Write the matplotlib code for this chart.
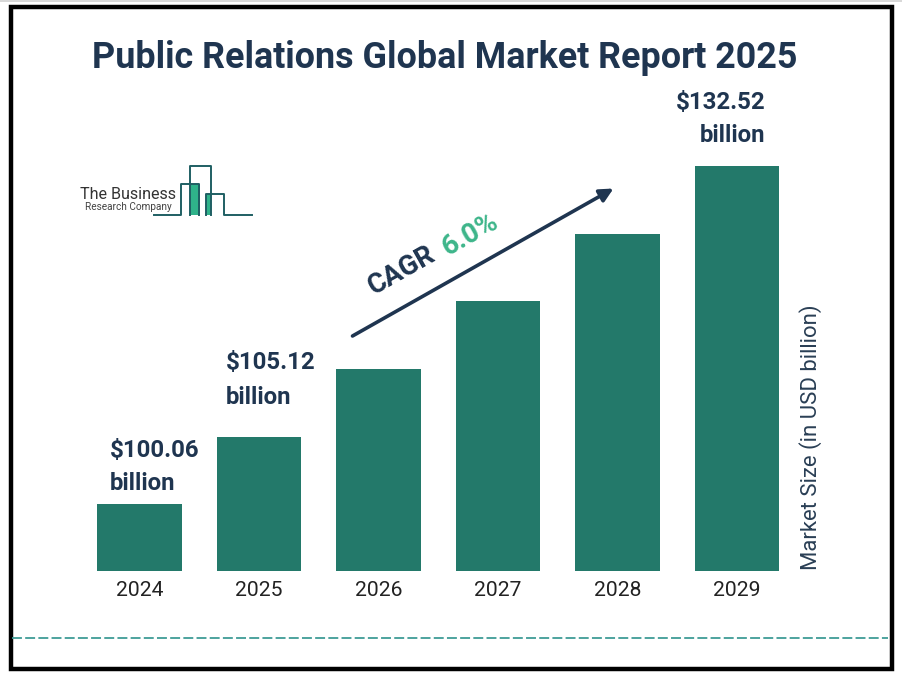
#!/bin/env python3

import matplotlib
matplotlib.use("Agg")
import matplotlib.pyplot as plt
from matplotlib.patches import Rectangle

plt.rcParams["font.family"] = ["Roboto", "DejaVu Sans"]

NAVY = "#1f3550"
BAR = "#23796a"
GREEN = "#3db58a"

years = ["2024", "2025", "2026", "2027", "2028", "2029"]
# heights as drawn in the picture, the bars are not to scale with the dollar labels
bar_heights = [67, 134, 202, 270, 337, 405]

W, H = 902, 680

fig = plt.figure(figsize=(W / 100, H / 100), dpi=100)

# overlay in pixel coordinates for frame, logo, arrow
bg = fig.add_axes([0, 0, 1, 1])
bg.set_xlim(0, W)
bg.set_ylim(H, 0)
bg.axis("off")

bg.add_patch(Rectangle((0, 0), W, 2, color="#d8d8d8", lw=0))
bg.add_patch(Rectangle((10.5, 7), 881, 662, fill=False, ec="black", lw=3.2))
bg.plot([12, 888], [638, 638], color="#3f9c96", lw=1.3, dashes=(5.5, 1.8))

bg.text(444.5, 57.5, "Public Relations Global Market Report 2025", ha="center", va="center",
        fontsize=25.85, fontweight="bold", color=NAVY)

# logo
logo = "#1f5f63"
bg.add_patch(Rectangle((190, 183.5), 9.5, 31, color="#2fb38a", lw=0))
bg.add_patch(Rectangle((206, 194), 4.7, 20.5, color="#2fb38a", lw=0))
bg.plot([154, 181, 181, 199.3, 199.3], [214.5, 214.5, 183.5, 183.5, 214.5], color=logo, lw=1.4)
bg.plot([190, 190, 210.7, 210.7], [214.5, 165.7, 165.7, 214.5], color=logo, lw=1.4)
bg.plot([206, 206, 224.3, 224.3, 251.7], [214.5, 194, 194, 214.5, 214.5], color=logo, lw=1.4)
bg.text(80, 194.5, "The Business", ha="left", va="center", fontsize=11.6, color="#333333")
bg.text(85, 206.7, "Research Company", ha="left", va="center", fontsize=7.2, color="#444444")

# CAGR arrow
bg.annotate("", xy=(613.5, 188.5), xytext=(352.5, 336),
            arrowprops=dict(arrowstyle="-|>", color=NAVY, lw=2.6, mutation_scale=20, shrinkA=0, shrinkB=0))
bg.text(402, 271, "CAGR", rotation=29.5, rotation_mode="anchor", ha="center", va="center",
        fontsize=19.8, fontweight="bold", color=NAVY)
bg.text(470, 235, "6.0%", rotation=29.5, rotation_mode="anchor", ha="center", va="center",
        fontsize=20, fontweight="bold", color=GREEN)

# value labels
for x, y, s in [(110, 450, "$100.06"), (110, 483, "billion"),
                (226, 363, "$105.12"), (226, 397, "billion"),
                (676, 103, "$132.52"), (700, 136, "billion")]:
    bg.text(x, y, s, ha="left", va="center", fontsize=17.3, fontweight="bold", color=NAVY)

bg.text(811, 437.5, "Market Size (in USD billion)", rotation=90, ha="center", va="center",
        fontsize=15.9, color="#2a3f55")

# bars
ax = fig.add_axes([79.75 / W, 1 - 571 / H, 717 / W, 421 / H])
ax.patch.set_alpha(0)
ax.bar(years, bar_heights, width=0.708, color=BAR)
ax.set_xlim(-0.5, 5.5)
ax.set_ylim(0, 421)
ax.set_yticks([])
ax.tick_params(axis="x", length=0, pad=7, labelsize=15.2, labelcolor="#222222")
for s in ax.spines.values():
    s.set_visible(False)

plt.savefig("out.png", dpi=100)
